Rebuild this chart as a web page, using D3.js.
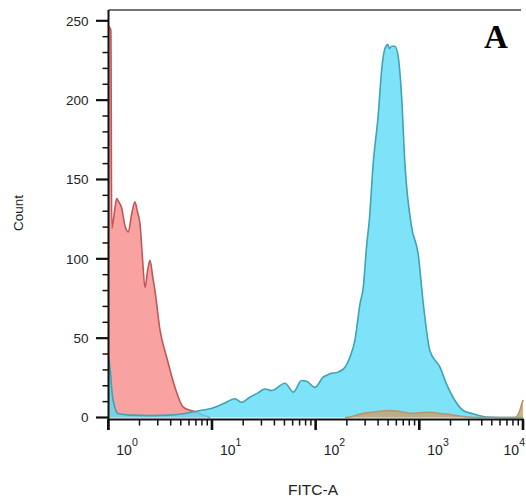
<!DOCTYPE html>
<html>
<head>
<meta charset="utf-8">
<script src="https://cdn.jsdelivr.net/npm/d3@7"></script>
<style>
  html, body { margin: 0; padding: 0; background: #fff; }
  svg { display: block; }
</style>
</head>
<body>
<svg id="chart" width="526" height="502"></svg>
<script>
// FITC-A intensity (log scale) and event counts for each overlaid histogram
const redFitc = [1.000, 1.059, 1.079, 1.148, 1.205, 1.259, 1.346, 1.445, 1.560, 1.679, 1.807, 1.905, 2.023, 2.138, 2.259, 2.399, 2.523, 2.692, 2.818, 3.155, 3.656, 4.395, 5.284, 6.166, 7.112, 8.318, 9.572];
const redCount = [247, 244, 119, 130, 138, 136, 132, 121, 117, 128, 136, 130, 122, 100, 82, 93, 99, 88, 80, 55, 38, 19, 6.5, 4.5, 3.3, 1.5, 0];

const blueFitc = [1.00, 1.04, 1.09, 1.16, 1.24, 1.62, 2.52, 3.94, 5.50, 7.66, 9.57, 12.8, 16.7, 19.3, 23.2, 27.8, 32.4, 37.7, 50.6, 60.8, 73.3, 81.8, 98.4, 118, 137, 165, 192, 214, 239, 268, 288, 310, 330, 359, 402, 433, 466, 498, 514, 541, 581, 627, 675, 726, 843, 975, 1091, 1265, 1581, 1832, 2203, 2649, 3311, 4457, 5984, 10000];
const blueCount = [38, 31, 15, 6, 2.5, 1.5, 1.2, 1.5, 2.5, 4.4, 5.5, 8.6, 11.8, 9.6, 12.8, 15.5, 18, 17, 21.6, 16, 23.3, 22.9, 19, 25.4, 27.5, 28.6, 31.7, 38, 48.6, 71.7, 82, 108, 125, 160, 191, 219, 232.5, 235, 232.5, 234, 234, 227, 202, 160, 120, 103, 72, 42, 31.7, 21, 10.7, 4.4, 2.3, 0.3, 0, 0];

const tanFitc = [192, 214, 286, 373, 520, 650, 813, 1014, 1265, 1581, 1972, 3076, 4797, 8356, 9141, 9772, 10000];
const tanCount = [0, 0.3, 2.7, 3.5, 4.4, 3.8, 2.7, 3, 3.3, 2.5, 1.9, 0.2, 0, 0, 3, 9, 11];

const yTicks = [0, 50, 100, 150, 200, 250];
const xDecades = [0, 1, 2, 3, 4];
const xTitle = "FITC-A";
const yTitle = "Count";
const panelLabel = "A";

const svg = d3.select("#chart");
const plotLeft = 108.5, plotTop = 10, plotBottom = 419.5;

const x = d3.scaleLog().domain([1, 10000]).range([108.3, 523]);
const y = d3.scaleLinear().domain([0, 250]).range([417.5, 20.8]);

svg.append("defs").append("clipPath").attr("id", "plotClip")
  .append("rect").attr("x", plotLeft).attr("y", plotTop)
  .attr("width", 526 - plotLeft).attr("height", plotBottom - plotTop);

const plot = svg.append("g").attr("clip-path", "url(#plotClip)");

function drawHist(fitc, count, fill, fillOpacity, stroke) {
  const pts = fitc.map((v, i) => [v, count[i]]);
  const area = d3.area().curve(d3.curveMonotoneX)
    .x(d => x(d[0])).y0(y(0)).y1(d => y(d[1]));
  const line = d3.line().curve(d3.curveMonotoneX)
    .x(d => x(d[0])).y(d => y(d[1]));
  plot.append("path").attr("d", area(pts))
    .attr("fill", fill).attr("fill-opacity", fillOpacity);
  plot.append("path").attr("d", line(pts))
    .attr("fill", "none").attr("stroke", stroke).attr("stroke-width", 1.6)
    .attr("stroke-linejoin", "round");
}

drawHist(redFitc, redCount, "#f9a2a2", 1, "#c25656");
drawHist(blueFitc, blueCount, "#5edcf6", 0.8, "#3ea3b3");
drawHist(tanFitc, tanCount, "#c4a374", 0.85, "#b39670");

// frame: top border
svg.append("line").attr("x1", plotLeft).attr("x2", 521).attr("y1", plotTop).attr("y2", plotTop)
  .attr("stroke", "#444").attr("stroke-width", 1.5);

// y axis
const axisColor = "#111";
svg.append("line").attr("x1", plotLeft).attr("x2", plotLeft).attr("y1", plotTop).attr("y2", 430)
  .attr("stroke", axisColor).attr("stroke-width", 2);
const yMinor = d3.range(0, 251, 10).filter(v => v % 50 !== 0);
svg.selectAll(".yminor").data(yMinor).join("line")
  .attr("x1", 102.5).attr("x2", plotLeft).attr("y1", d => y(d)).attr("y2", d => y(d))
  .attr("stroke", axisColor).attr("stroke-width", 1.5);
svg.selectAll(".ymajor").data(yTicks).join("line")
  .attr("x1", 96).attr("x2", plotLeft).attr("y1", d => y(d)).attr("y2", d => y(d))
  .attr("stroke", axisColor).attr("stroke-width", 2.2);
svg.selectAll(".ylabel").data(yTicks).join("text")
  .attr("x", 88.5).attr("y", d => y(d) + 4.8)
  .attr("text-anchor", "end")
  .attr("font-family", "Liberation Sans, Arial, sans-serif")
  .attr("font-size", 13.5).attr("fill", "#222")
  .text(d => d);

// x axis
svg.append("line").attr("x1", 107.5).attr("x2", 524).attr("y1", plotBottom).attr("y2", plotBottom)
  .attr("stroke", axisColor).attr("stroke-width", 2);
const xMinor = [];
for (let e = 0; e < 4; e++) for (let m = 2; m <= 9; m++) xMinor.push(m * Math.pow(10, e));
svg.selectAll(".xminor").data(xMinor).join("line")
  .attr("x1", d => x(d)).attr("x2", d => x(d)).attr("y1", plotBottom).attr("y2", 425.5)
  .attr("stroke", axisColor).attr("stroke-width", 1.5);
svg.selectAll(".xmajor").data(xDecades).join("line")
  .attr("x1", d => x(Math.pow(10, d))).attr("x2", d => x(Math.pow(10, d)))
  .attr("y1", plotBottom).attr("y2", 430)
  .attr("stroke", axisColor).attr("stroke-width", 2.6);

const xl = svg.selectAll(".xlabel").data(xDecades).join("text")
  .attr("x", d => d === 4 ? 525 : x(Math.pow(10, d)) + 8)
  .attr("y", 455)
  .attr("text-anchor", d => d === 4 ? "end" : "start")
  .attr("font-family", "Liberation Sans, Arial, sans-serif")
  .attr("font-size", 14).attr("fill", "#222");
xl.append("tspan").text("10");
xl.append("tspan").attr("dy", -9).attr("font-size", 10.5).text(d => d);

// axis titles
svg.append("text").attr("x", 313).attr("y", 495)
  .attr("text-anchor", "middle")
  .attr("font-family", "Liberation Sans, Arial, sans-serif")
  .attr("font-size", 15.5).attr("fill", "#222")
  .text(xTitle);
svg.append("text")
  .attr("transform", "translate(22.5,213) rotate(-90)")
  .attr("text-anchor", "middle")
  .attr("font-family", "Liberation Sans, Arial, sans-serif")
  .attr("font-size", 13.5).attr("fill", "#222")
  .text(yTitle);

// panel label
svg.append("text").attr("x", 484).attr("y", 48)
  .attr("font-family", "Liberation Serif, Times New Roman, serif")
  .attr("font-weight", "bold").attr("font-size", 33).attr("fill", "#000")
  .text(panelLabel);
</script>
</body>
</html>
